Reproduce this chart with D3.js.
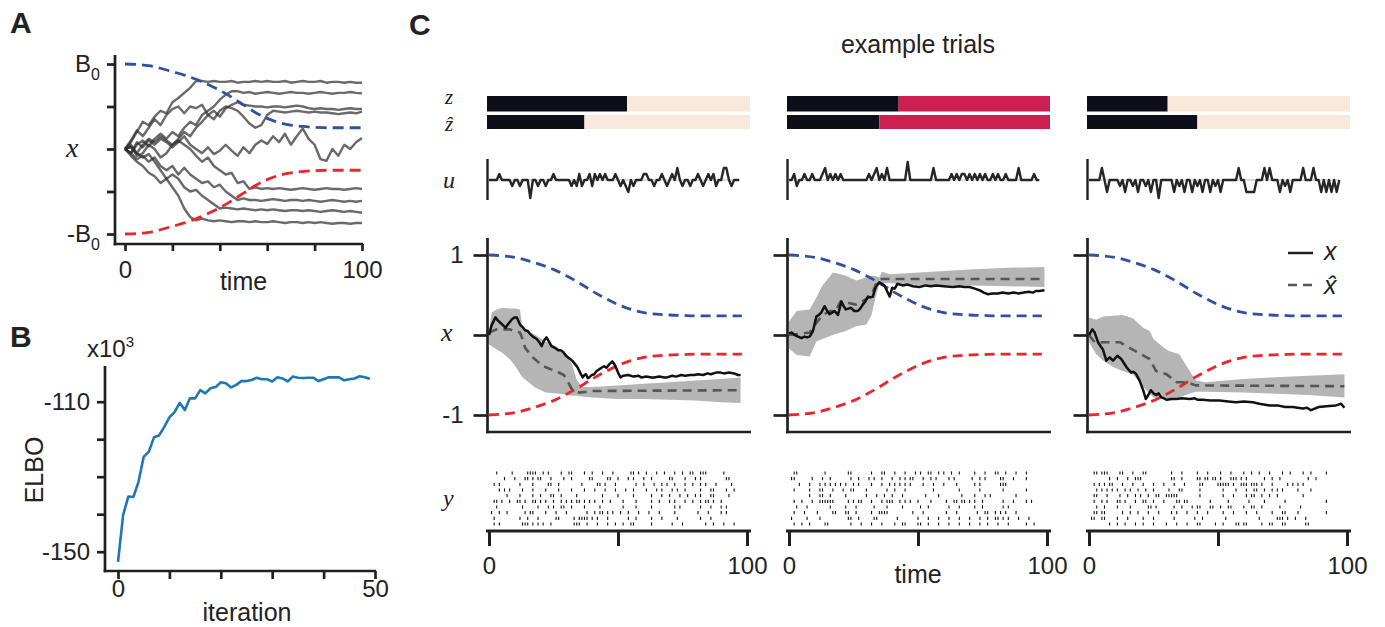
<!DOCTYPE html>
<html lang="en">
<head>
<meta charset="utf-8">
<title>example trials</title>
<script src="https://cdn.jsdelivr.net/npm/d3@7"></script>
<style>
body{margin:0;background:#fff;}
svg{display:block;font-family:"Liberation Sans",Arial,sans-serif;}
</style>
</head>
<body>
<script>
// ---------- data ----------
// panel A: sample paths (one value every 2.5 time units), bounds every 5
var pathsA = [
  [0,0.08,0.2,0.32,0.28,0.38,0.45,0.42,0.55,0.6,0.66,0.72,0.8,0.8,0.79,0.8,0.79,0.79,0.8,0.78,0.79,0.79,0.8,0.79,0.8,0.79,0.79,0.8,0.78,0.79,0.8,0.79,0.79,0.8,0.78,0.79,0.79,0.78,0.79,0.78,0.78],
  [0,-0.05,0.05,0.1,0.03,0.12,0.18,0.12,0.2,0.15,0.25,0.32,0.28,0.4,0.45,0.5,0.58,0.64,0.68,0.68,0.66,0.67,0.65,0.66,0.67,0.66,0.65,0.66,0.67,0.66,0.66,0.65,0.66,0.67,0.66,0.65,0.66,0.66,0.67,0.66,0.655],
  [0,0.1,0.22,0.15,0.25,0.35,0.28,0.4,0.47,0.5,0.42,0.5,0.48,0.52,0.4,0.45,0.38,0.48,0.52,0.55,0.52,0.51,0.5,0.5,0.49,0.5,0.5,0.49,0.5,0.51,0.5,0.48,0.47,0.48,0.47,0.47,0.46,0.47,0.48,0.47,0.47],
  [0,0.05,-0.05,0.05,0.12,0.08,0.15,0.1,0.05,0.12,0.2,0.15,0.25,0.32,0.4,0.35,0.45,0.5,0.48,0.45,0.38,0.3,0.25,0.28,0.4,0.45,0.44,0.43,0.44,0.45,0.44,0.43,0.44,0.43,0.43,0.42,0.41,0.42,0.43,0.42,0.44],
  [0,-0.05,0.08,0.02,0.1,0.05,0.12,0.08,0.02,0.08,0.15,0.05,0,-0.05,0.02,-0.06,-0.02,0.05,-0.02,-0.08,0.02,-0.05,0.05,0.1,0.06,0.15,0.08,0.18,0.05,0.15,0.24,0.12,0.05,-0.12,-0.14,0,-0.08,0.05,0,0.08,0.13],
  [0,0.03,-0.08,-0.05,0.05,0,-0.1,-0.05,0.05,0.1,0.05,0,-0.08,-0.15,-0.1,-0.2,-0.25,-0.3,-0.28,-0.4,-0.38,-0.47,-0.45,-0.47,-0.46,-0.47,-0.46,-0.47,-0.48,-0.47,-0.46,-0.47,-0.48,-0.47,-0.46,-0.47,-0.47,-0.48,-0.47,-0.46,-0.47],
  [0,-0.05,-0.12,-0.08,-0.15,-0.1,-0.2,-0.25,-0.2,-0.3,-0.22,-0.3,-0.35,-0.4,-0.38,-0.45,-0.42,-0.5,-0.55,-0.6,-0.58,-0.6,-0.6,-0.61,-0.6,-0.59,-0.6,-0.61,-0.6,-0.6,-0.61,-0.6,-0.61,-0.62,-0.61,-0.6,-0.61,-0.62,-0.61,-0.62,-0.61],
  [0,-0.08,-0.15,-0.2,-0.28,-0.32,-0.4,-0.35,-0.3,-0.35,-0.45,-0.5,-0.48,-0.55,-0.6,-0.65,-0.7,-0.69,-0.7,-0.71,-0.7,-0.71,-0.72,-0.71,-0.72,-0.71,-0.72,-0.73,-0.72,-0.72,-0.73,-0.72,-0.73,-0.74,-0.73,-0.72,-0.73,-0.74,-0.73,-0.74,-0.75],
  [0,0.02,-0.05,-0.1,-0.06,-0.15,-0.25,-0.35,-0.45,-0.55,-0.7,-0.8,-0.84,-0.82,-0.84,-0.85,-0.84,-0.85,-0.86,-0.85,-0.85,-0.86,-0.85,-0.86,-0.86,-0.85,-0.86,-0.87,-0.86,-0.86,-0.87,-0.86,-0.87,-0.86,-0.87,-0.88,-0.87,-0.87,-0.88,-0.87,-0.87]
];
var boundUpperA = [1,0.995,0.98,0.95,0.91,0.87,0.82,0.76,0.69,0.61,0.52,0.43,0.36,0.31,0.28,0.265,0.255,0.25,0.25,0.25,0.25];
var boundLowerA = [-1,-0.995,-0.98,-0.95,-0.91,-0.87,-0.82,-0.76,-0.69,-0.61,-0.52,-0.43,-0.36,-0.31,-0.28,-0.265,-0.255,-0.25,-0.25,-0.25,-0.25];

// panel B: ELBO (x10^3) per iteration
var elbo = [-152.7,-140.2,-135.3,-135.4,-131.3,-124.7,-123.3,-119.5,-119,-116.7,
  -114.2,-112.8,-110.3,-112.2,-109.1,-109.1,-106.9,-107.8,-106.4,-106.1,
  -104.8,-105.1,-106.2,-105.5,-104.5,-104.5,-104.2,-103.6,-104,-104,
  -104.6,-103.5,-103.8,-104.6,-103.3,-103.6,-103.7,-103.6,-103.6,-104.5,
  -104,-103.5,-103.5,-103.5,-104.3,-104,-103.8,-103.2,-103.5,-103.9];

// panel C: bounds every 5 time units
var boundUpperC = [1,0.99,0.97,0.93,0.88,0.82,0.74,0.65,0.55,0.46,0.38,0.32,0.28,0.26,0.25,0.245,0.24,0.24,0.24,0.24,0.24];
var boundLowerC = [-1,-0.99,-0.97,-0.93,-0.88,-0.82,-0.74,-0.65,-0.55,-0.46,-0.38,-0.32,-0.28,-0.26,-0.25,-0.245,-0.24,-0.24,-0.24,-0.24,-0.24];

// discrete state switch times and the state after the switch (1 = lower, 2 = upper)
var zSwitch = [53.5, 42.5, 30.5];
var zhatSwitch = [37, 35, 42];
var zAfter = [1, 2, 1];
var stateColors = ["#0e0e18", "#f9e9dc", "#cc1f52"];

// inputs u (one per time step)
var uTrial1 = [0,0,0,0,1,0,0,0,0,-1, 0,0,-1,0,0,0,-3,0,0,-1, 0,0,-1,0,0,1,0,0,0,0, 0,0,-1,0,-1,1,-1,0,0,1,
  -1,1,0,1,0,1,0,0,0,1, 0,-1,0,-1,-2,0,-1,0,0,0, 1,1,0,0,-1,0,0,1,0,-1, 0,1,0,2,0,-1,0,0,-1,0,
  0,1,0,-1,0,1,0,1,-1,0, 0,2,2,0,-1,0,0,0];
var uTrial2 = [0,0,1,-1,0,0,1,0,0,1, 0,0,0,1,2,0,1,0,1,0, 1,0,0,0,0,0,0,0,0,0, 0,1,0,1,2,0,1,0,2,0,
  0,0,0,0,0,0,3,0,0,0, 0,0,0,0,0,0,2,0,0,0, 0,0,0,1,0,1,0,1,1,0, 1,0,1,0,1,0,1,0,0,1,
  0,1,0,0,1,0,0,0,0,2, 0,0,0,0,0,1,0,0];
var uTrial3 = [0,0,0,0,0,2,0,-2,0,0, 0,0,-1,0,-2,0,0,-1,0,-2, 0,0,-1,0,-2,0,0,-3,0,0, 0,0,0,-2,0,-1,0,-2,0,0,
  -2,0,-1,0,-2,0,0,-2,0,-1, 0,-2,0,0,0,0,0,0,2,0, 0,-2,-2,-2,-2,0,0,0,2,0, 2,0,0,0,-2,0,-1,0,-2,0,
  0,0,0,2,0,0,0,2,0,0, -2,0,-2,0,-2,0,-2,0];

// latent x: [time, value]
var xTrial1 = [[0,0],[1,0.12],[2.5,0.22],[3.5,0.18],[4.5,0.15],[5.5,0.12],[6.4,0.09],[7.5,0.14],[9,0.2],[10,0.22],[10.8,0.22],[12,0.13],[13,0.1],[14,0.06],[15,0.05],[16,0.01],[17,-0.02],[18.5,-0.05],[19.5,-0.09],[20.4,-0.14],[21.3,-0.07],[22.3,-0.03],[23.2,-0.08],[24.2,-0.14],[25.5,-0.16],[26.8,-0.19],[27.8,-0.19],[28.7,-0.21],[29.6,-0.25],[30.6,-0.28],[31.5,-0.3],[32.5,-0.33],[33.5,-0.37],[34.4,-0.41],[35.3,-0.47],[36.3,-0.53],[37,-0.5],[37.6,-0.49],[38.3,-0.54],[38.9,-0.53],[39.8,-0.5],[40.8,-0.49],[41.7,-0.45],[42.7,-0.43],[43.6,-0.41],[44.6,-0.39],[45.5,-0.41],[46.5,-0.37],[47.8,-0.33],[48.5,-0.36],[49,-0.39],[50.3,-0.49],[51,-0.53],[52,-0.51],[54,-0.5],[56,-0.52],[58,-0.51],[59,-0.53],[61,-0.52],[63,-0.53],[64,-0.53],[66,-0.52],[68,-0.53],[69,-0.53],[71,-0.51],[72.5,-0.52],[74.5,-0.5],[76,-0.51],[78,-0.5],[79.6,-0.5],[81,-0.49],[83,-0.5],[84.7,-0.48],[86,-0.49],[88,-0.47],[89.8,-0.47],[91,-0.48],[93,-0.47],[95,-0.48],[96.5,-0.5],[97.5,-0.5]];
var xTrial2 = [[0,0.02],[1,0.03],[2.2,0],[3.5,-0.02],[4.8,-0.04],[6,-0.02],[7,-0.03],[8,-0.02],[9.3,0.05],[10.6,0.23],[11.5,0.25],[12.5,0.28],[13.8,0.36],[14.8,0.3],[15.7,0.26],[16.7,0.28],[17.7,0.3],[19,0.25],[20.3,0.42],[21.2,0.36],[22,0.32],[23,0.33],[24,0.34],[25.3,0.3],[26.7,0.3],[27.6,0.33],[28.6,0.38],[29.6,0.42],[30.6,0.48],[31.5,0.47],[32.5,0.48],[33.2,0.56],[33.8,0.61],[35,0.66],[36,0.64],[37,0.62],[38,0.55],[39,0.48],[40,0.59],[41,0.58],[42,0.64],[44,0.62],[46,0.63],[48,0.61],[50.6,0.6],[53,0.62],[55,0.61],[57,0.62],[60,0.61],[63.5,0.6],[66,0.61],[68,0.6],[70,0.6],[72,0.58],[73.8,0.56],[75.5,0.53],[77,0.51],[79,0.52],[81,0.52],[82.8,0.53],[85,0.52],[87,0.53],[89,0.52],[91,0.53],[93,0.54],[94.5,0.53],[95.7,0.55],[97,0.55],[99,0.56]];
var xTrial3 = [[0,0],[1.3,0.07],[2.2,0.03],[3.5,-0.09],[4.5,-0.14],[5.4,-0.18],[6.7,-0.32],[8,-0.28],[9.3,-0.32],[10.2,-0.29],[11,-0.26],[12.5,-0.3],[13.5,-0.35],[14.5,-0.4],[15.5,-0.44],[16.4,-0.47],[17.3,-0.46],[18.3,-0.49],[19.6,-0.57],[20.3,-0.63],[21,-0.69],[22,-0.8],[23,-0.75],[24,-0.69],[25,-0.73],[26,-0.75],[27,-0.73],[28,-0.78],[29,-0.79],[30,-0.81],[32,-0.8],[33.8,-0.8],[36,-0.79],[39,-0.8],[41,-0.79],[42,-0.81],[44,-0.81],[47,-0.82],[50.6,-0.82],[54,-0.83],[57,-0.84],[60,-0.83],[63.5,-0.84],[66,-0.86],[70,-0.88],[73,-0.88],[76,-0.9],[79,-0.9],[82.8,-0.92],[84.5,-0.91],[86,-0.94],[87.5,-0.92],[89,-0.9],[92,-0.89],[95.7,-0.88],[97.7,-0.86],[99,-0.91]];

// posterior mean x-hat: [time, value]
var xhatTrial1 = [[0,0.03],[3,0.07],[8,0.07],[12,0.03],[13,-0.05],[14,-0.16],[17,-0.28],[21,-0.39],[24,-0.43],[26,-0.45],[29,-0.5],[30,-0.55],[32.5,-0.7],[35,-0.72],[40,-0.7],[97.5,-0.69]];
var xhatTrial2 = [[0,0],[8,0.03],[10.6,0.15],[13,0.25],[16,0.3],[18,0.3],[20,0.42],[23,0.4],[26,0.38],[30,0.45],[32,0.5],[34,0.66],[36,0.7],[99,0.7]];
var xhatTrial3 = [[0,0],[2.2,-0.09],[12,-0.09],[14.5,-0.14],[19,-0.22],[23.5,-0.3],[26,-0.45],[30,-0.49],[34,-0.59],[37.7,-0.59],[41.5,-0.63],[99,-0.64]];

// posterior band: [time, lower, upper]
var bandTrial1 = [[0,-0.12,0.05],[1,-0.14,0.28],[3,-0.18,0.32],[5,-0.22,0.34],[8,-0.3,0.33],[10,-0.38,0.33],[12,-0.48,0.32],[13,-0.53,0.08],[15,-0.58,0.04],[18,-0.66,0],[22,-0.72,-0.08],[26,-0.73,-0.14],[29,-0.74,-0.22],[32,-0.76,-0.35],[34,-0.76,-0.56],[36,-0.77,-0.65],[40,-0.78,-0.65],[50,-0.8,-0.63],[60,-0.8,-0.61],[70,-0.81,-0.59],[80,-0.82,-0.57],[90,-0.84,-0.55],[97.5,-0.85,-0.53]];
var bandTrial2 = [[0,-0.17,0.17],[3,-0.25,0.3],[8,-0.27,0.32],[10.6,-0.08,0.47],[13,-0.05,0.62],[17,0,0.78],[20,0.03,0.76],[22,0.05,0.74],[26,0.11,0.68],[30,0.13,0.72],[32,0.25,0.74],[33,0.4,0.74],[35,0.64,0.72],[36,0.65,0.79],[39,0.65,0.76],[44,0.63,0.77],[60,0.62,0.8],[70,0.62,0.82],[85,0.61,0.84],[99,0.6,0.85]];
var bandTrial3 = [[0,-0.09,0.22],[2.8,-0.24,0.19],[5.4,-0.32,0.23],[9.3,-0.4,0.24],[13,-0.45,0.25],[17,-0.49,0.21],[21,-0.65,0.09],[23.5,-0.73,0.05],[25,-0.78,-0.05],[28.6,-0.8,-0.15],[31,-0.79,-0.2],[35,-0.78,-0.24],[39,-0.73,-0.45],[41.5,-0.71,-0.57],[45,-0.71,-0.59],[60,-0.72,-0.55],[70,-0.73,-0.53],[85,-0.75,-0.51],[99,-0.78,-0.49]];

// spike rasters, one string per neuron, one character per time bin ('|' = spike)
var spikesTrial1 = [
  "...|.....| .....||||. .|.|....|. .||....|.. |...|...|. .....||.|. .|...|..|. ..|..|..|| ..|||..... .|........",
  "......|... |...||.|.| |...|....| ..|......| |.....||.. |...|.|... |..|...... ||....|... |.|....... ..||......",
  "..|.|..... ..|....|.. ...||..|.. ......|... ..||.|...| .......|.. |...|..|.| ..|...|..| ..|.|...|. ....|.....",
  "....|.|.|. ...|...|.. ..|....|.. ..|....|.. .|...|...| ...|..|... .|...|.|.. .|.|..|... ..|...||.. ..|..|....",
  ".......|.. ..|....|.. |...||..|. ....|..... ....|..... |.....|... ...|...|.. |...|..|.. |.|...||.. ...|......",
  "..||.|..|. .||.|..||. |.|..|..|. |.|.||.|.| .|..|..|.. ..|....|.. ...|..|... |.|...|..| ..|.||.|.. |.........",
  "...|...... ...|.....| ...|.|..|| ..|....|.. ...|...... ..|....|.. ...|...... ..|.|..... ..|...|... |.|.......",
  ".|..|..|.. ....|.||.. ..|...|... |.......|. .|.||.|.|. .|..|...|. ..|...|... ..|....... .|...|.... |.|.......",
  "..|....... ..|..|...| ......||.. ...|.||||. |.|...|... ....|..|.. ...|...|.. ...|...... ..|...|... .........",
  "..|.|..... ...|||.|.| .|..|..... ...|||..|. ..|...|..| ..|..||... ...|...... .|...|.... ....|..|.. .|...|...."
];
var spikesTrial2 = [
  "..||...... ....|..... ...||..... ..|...||.. .|...|...| .|..||..|. |..|..|... ..|...|... ||..|...|. ..|....",
  ".||......| ...|..|... ....|..|.. .|.|..|... |..|.|.||. ..|..|.|.. ..|.|..... .|..|.|... ..||...|.. ..|......",
  "....|...|. ..|.|.|.|. |.|..|.|.. ..|...|..| .|.|.|.|.. ..|...|... |....|.... ..|.|..... ..|||..... .........",
  "..|.....|. ..||...|.. .|..||.... |.......|. .|...|.... ......|... ......|... ....|..... ...|...... ..|......",
  "........|. ..||..|... ..|....... |...|..|.. |...|..... ...|....|. .......|.. ..|...|.|. ........|. .........",
  "..|..|...| ..||||||.. ...|.|.||. ..|...|.|| |..|.|.|.. |....|.... .|..||.||. |.|..|.... ...|...|.. ..|.|....",
  "...|...|.. ......|... ..|...|... ...|....|. ....|..... .|..|..... ..|...|... ..|..|.... ...|.|.... .........",
  "..|...|... .|.....||. ..||..|... ..|..||||. ........|. ..|....... .|...|.... ...|..||.. |.|.|...|. .........",
  ".|.....|.. ..|....... ...||..|.. ...||..... ..|....... |...|...|. ..|...|... |...|..|.. ||.|.|...| ...|.....",
  "..|..|..|. ....||.... ....|...|. ..|...|... .|..||.... ||..|...|. ..|...|... |...|..|.. .|...|.... ..|..|..."
];
var spikesTrial3 = [
  "..||.|||.. ..||...|.. .||....... ..|...|... ..|...|... .|...|.... |..|..|... |....|..|. ...|..|... ..|....",
  "........|. .|...|..|| |......... ..||..|... ..||.||.|| .|...|||.| .|......|. .|..|..... .....|..|. .........",
  "..|.|.|.|| ...|...|.. .|...|...| ...|...|.. ...||..... |||||.|..| ||.|||.|.. .|.....|.| .|.|...... .........",
  "...|.|.|.| .|..|.|..| ..|..|.... .|...||... ...|...... ..|....|.. .|..||..|. .|.|.|.... .|....|... .........",
  "..||...|.. ..|..|..|. |..|..||.. |||||..... ...|...... ..|...|... .|.||..|.. |..|...... ...|...... .........",
  "..|..|.|.. .||.|...|. .||..|...| ....||.||. .......|.. ....|..... ..|.....|. ......|... .......... ..|......",
  "...|..|... .|....|... ...||.|... ...|..|... |.||...||. .|..||.... |..||..|.. ....|..... ..|....... .........",
  "..||.||... ...|..|..| ...|...|.. ..|.|...|. ..|...|... ..|...|... .|...|.... .|...||... .|........ ..|......",
  ".||..||... .|...|.... .|...|.... ...|...... .|..|..... ...|...... ......|... ...|||.|.. |...|..... .........",
  "........|. .|..|...|. .|...|.... |...|...|. ..||.....| ..|....||. ||.....|.. ||...||... ....||.... ........."
];

var trials = [
  {u: uTrial1, x: xTrial1, xhat: xhatTrial1, band: bandTrial1, spikes: spikesTrial1},
  {u: uTrial2, x: xTrial2, xhat: xhatTrial2, band: bandTrial2, spikes: spikesTrial2},
  {u: uTrial3, x: xTrial3, xhat: xhatTrial3, band: bandTrial3, spikes: spikesTrial3}
];

// ---------- drawing ----------
var ink = "#231f20";
var blue = "#3051a3", red = "#e8262b";
var serif = "'Liberation Serif','DejaVu Serif',serif";

var svg = d3.select("body").append("svg").attr("width", 1385).attr("height", 627);

function spine(x1, y1, x2, y2, w) {
  svg.append("line").attr("x1", x1).attr("y1", y1).attr("x2", x2).attr("y2", y2)
    .attr("stroke", ink).attr("stroke-width", w || 2.7);
}
function styleAxis(g, textY, w) {
  g.select(".domain").remove();
  g.selectAll(".tick line").attr("stroke", ink).attr("stroke-width", w || 2.7);
  g.selectAll(".tick text").attr("font-size", 24).attr("fill", "#222")
    .attr("font-family", "'Liberation Sans',Arial,sans-serif");
  if (textY !== undefined) g.selectAll(".tick text").attr("y", textY).attr("dy", 0);
}
function text(x, y, s, size, opt) {
  opt = opt || {};
  return svg.append("text").attr("x", x).attr("y", y).text(s)
    .attr("font-size", size).attr("fill", opt.fill || "#222")
    .attr("text-anchor", opt.anchor || "start")
    .attr("font-family", opt.family || "'Liberation Sans',Arial,sans-serif")
    .attr("font-style", opt.style || "normal")
    .attr("font-weight", opt.weight || "normal");
}

// panel letters
text(10, 33, "A", 30, {weight: "bold"});
text(10, 347, "B", 30, {weight: "bold"});
text(409, 35, "C", 30, {weight: "bold"});

// ----- panel A -----
var tGridA = d3.range(0, 100.01, 2.5);
var tBound = d3.range(0, 100.01, 5);
var xA = d3.scaleLinear().domain([0, 100]).range([125, 362]);
var yA = d3.scaleLinear().domain([-1, 1]).range([234, 64]);

var lineA = d3.line().x(function(d, i) { return xA(tGridA[i]); }).y(function(d) { return yA(d); });
svg.append("g").selectAll("path").data(pathsA).enter().append("path")
  .attr("d", lineA).attr("fill", "none").attr("stroke", "#2b2b2b")
  .attr("stroke-opacity", 0.7).attr("stroke-width", 2.4).attr("stroke-linejoin", "round");

var boundLineA = d3.line().x(function(d, i) { return xA(tBound[i]); }).y(function(d) { return yA(d); }).curve(d3.curveMonotoneX);
svg.append("path").attr("d", boundLineA(boundUpperA)).attr("fill", "none").attr("stroke", blue)
  .attr("stroke-width", 2.8).attr("stroke-dasharray", "11,6");
svg.append("path").attr("d", boundLineA(boundLowerA)).attr("fill", "none").attr("stroke", red)
  .attr("stroke-width", 2.8).attr("stroke-dasharray", "11,6");

var gAy = svg.append("g").attr("transform", "translate(115,0)")
  .call(d3.axisLeft(yA).tickValues([-1, -0.5, 0, 0.5, 1]).tickSize(8).tickFormat(""));
styleAxis(gAy);
var gAx = svg.append("g").attr("transform", "translate(0,244)")
  .call(d3.axisBottom(xA).tickValues(d3.range(0, 101, 20)).tickSize(7)
    .tickFormat(function(d) { return (d === 0 || d === 100) ? d : ""; }));
styleAxis(gAx, 34);
spine(115, 55, 115, 245.3);
spine(113.7, 244, 363, 244);

var b0 = text(100, yA(1) + 8, "B", 24, {anchor: "end"});
b0.append("tspan").attr("font-size", 16).attr("dy", 8).text("0");
var mb0 = text(100, yA(-1) + 8, "-B", 24, {anchor: "end"});
mb0.append("tspan").attr("font-size", 16).attr("dy", 8).text("0");
text(66, yA(0) + 8, "x", 28, {family: serif, style: "italic"});
text(xA(50), 290, "time", 25, {anchor: "middle"});

// ----- panel B -----
var xB = d3.scaleLinear().domain([0, 50]).range([118, 375]);
var yB = d3.scaleLinear().domain([-150, -110]).range([551.7, 401.7]);
svg.append("path").datum(elbo)
  .attr("d", d3.line().x(function(d, i) { return xB(i); }).y(function(d) { return yB(d); }))
  .attr("fill", "none").attr("stroke", "#1f77b4").attr("stroke-width", 2.6).attr("stroke-linejoin", "round");

var gBy = svg.append("g").attr("transform", "translate(105,0)")
  .call(d3.axisLeft(yB).tickValues([-150, -140, -130, -120, -110]).tickSize(8).tickPadding(7)
    .tickFormat(function(d) { return (d === -110 || d === -150) ? String(d) : ""; }));
styleAxis(gBy);
var gBx = svg.append("g").attr("transform", "translate(0,571)")
  .call(d3.axisBottom(xB).tickValues(d3.range(0, 51, 10)).tickSize(8)
    .tickFormat(function(d) { return (d === 0 || d === 50) ? d : ""; }));
styleAxis(gBx, 26);
spine(105, 366, 105, 572.3);
spine(103.7, 571, 376, 571);
var sci = text(87, 357, "x10", 24);
sci.append("tspan").attr("font-size", 15).attr("dy", -10).text("3");
text(247, 621, "iteration", 25, {anchor: "middle"});
svg.append("text").attr("transform", "translate(43,470) rotate(-90)")
  .attr("text-anchor", "middle").attr("font-size", 25).attr("fill", "#222").text("ELBO");

// ----- panel C -----
text(918, 53, "example trials", 25, {anchor: "middle"});

var rowY = d3.scalePoint().domain(d3.range(10)).range([473, 524]);
var colStarts = [489, 789, 1089];

trials.forEach(function(tr, k) {
  var x0 = colStarts[k];
  var xC = d3.scaleLinear().domain([0, 100]).range([x0, x0 + 258]);
  var yC = d3.scaleLinear().domain([-1, 1]).range([415, 255]);
  var uY = d3.scaleLinear().domain([-3, 3]).range([198, 162]);
  var g = svg.append("g");

  // z and z-hat bars
  [[zSwitch[k], 96, 15.5], [zhatSwitch[k], 115, 14]].forEach(function(b) {
    g.append("rect").attr("x", xC(0) - 2).attr("y", b[1]).attr("width", xC(b[0]) - xC(0) + 2)
      .attr("height", b[2]).attr("fill", stateColors[0]);
    g.append("rect").attr("x", xC(b[0])).attr("y", b[1]).attr("width", xC(100) + 3 - xC(b[0]))
      .attr("height", b[2]).attr("fill", stateColors[zAfter[k]]);
  });

  // u trace
  g.append("line").attr("x1", xC(0)).attr("x2", xC(tr.u.length - 1)).attr("y1", uY(0)).attr("y2", uY(0))
    .attr("stroke", "#cfcfcf").attr("stroke-width", 1.5);
  g.append("path").datum(tr.u)
    .attr("d", d3.line().x(function(d, i) { return xC(i); }).y(function(d) { return uY(d); }))
    .attr("fill", "none").attr("stroke", "#262626").attr("stroke-width", 2.4).attr("stroke-linejoin", "round");
  spine(xC(0) - 1.5, 159, xC(0) - 1.5, 200, 2.4);

  // posterior band, bounds, estimates
  g.append("path").datum(tr.band)
    .attr("d", d3.area().x(function(d) { return xC(d[0]); })
      .y0(function(d) { return yC(d[1]); }).y1(function(d) { return yC(d[2]); }))
    .attr("fill", "#b5b5b5");
  var boundLineC = d3.line().x(function(d, i) { return xC(Math.min(tBound[i], 98)); })
    .y(function(d) { return yC(d); }).curve(d3.curveMonotoneX);
  g.append("path").attr("d", boundLineC(boundUpperC)).attr("fill", "none").attr("stroke", blue)
    .attr("stroke-width", 2.8).attr("stroke-dasharray", "10,6");
  g.append("path").attr("d", boundLineC(boundLowerC)).attr("fill", "none").attr("stroke", red)
    .attr("stroke-width", 2.8).attr("stroke-dasharray", "10,6");
  var ptLine = d3.line().x(function(d) { return xC(d[0]); }).y(function(d) { return yC(d[1]); });
  g.append("path").datum(tr.xhat).attr("d", ptLine).attr("fill", "none").attr("stroke", "#565656")
    .attr("stroke-width", 2.6).attr("stroke-dasharray", "9,6");
  g.append("path").datum(tr.x).attr("d", ptLine).attr("fill", "none").attr("stroke", "#111")
    .attr("stroke-width", 2.5).attr("stroke-linejoin", "round");

  var gy = g.append("g").attr("transform", "translate(" + (xC(0) - 1.5) + ",0)")
    .call(d3.axisLeft(yC).tickValues([-1, 0, 1]).tickSize(14).tickPadding(10)
      .tickFormat(function(d) { return k === 0 && d !== 0 ? String(d) : ""; }));
  styleAxis(gy);
  spine(xC(0) - 1.5, 238, xC(0) - 1.5, 433.3);
  spine(xC(0) - 2.8, 432, xC(100) + 4, 432);

  // spike raster
  tr.spikes.forEach(function(row, r) {
    var bins = row.replace(/ /g, "").split("");
    bins.forEach(function(c, t) {
      if (c !== "|") return;
      g.append("line").attr("x1", xC(t)).attr("x2", xC(t))
        .attr("y1", rowY(r) - 1.6).attr("y2", rowY(r) + 1.6)
        .attr("stroke", "#111").attr("stroke-width", 1.1);
    });
  });
  var gx = g.append("g").attr("transform", "translate(0,531)")
    .call(d3.axisBottom(xC).tickValues([0, 50, 100]).tickSize(15)
      .tickFormat(function(d) { return d === 50 ? "" : d; }));
  styleAxis(gx, 43, 3);
  spine(xC(0) - 3, 531, xC(100) + 4, 531, 3);
});

// row labels for panel C (hats are combining circumflexes)
text(445, 104, "z", 21, {family: serif, style: "italic"});
text(445, 131, "z\u0302", 21, {family: serif, style: "italic"});
text(443, 188, "u", 24, {family: serif, style: "italic"});
text(441, 341, "x", 26, {family: serif, style: "italic"});
text(443, 506, "y", 24, {family: serif, style: "italic"});
text(918, 583, "time", 25, {anchor: "middle"});

// legend in third trial
spine(1288, 253, 1313, 253, 2.5);
svg.append("line").attr("x1", 1288).attr("x2", 1314).attr("y1", 285).attr("y2", 285)
  .attr("stroke", "#565656").attr("stroke-width", 2.6).attr("stroke-dasharray", "9,6");
text(1324, 260, "x", 25, {style: "italic"});
text(1324, 294, "x\u0302", 25, {style: "italic"});
</script>
</body>
</html>
